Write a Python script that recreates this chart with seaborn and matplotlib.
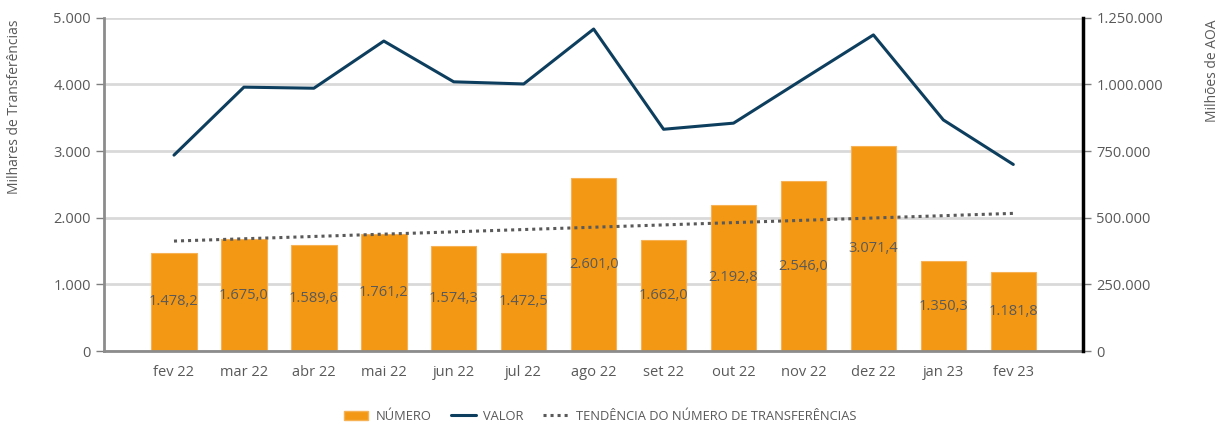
import numpy as np
import pandas as pd
import matplotlib
matplotlib.use("Agg")
import matplotlib.pyplot as plt
from matplotlib.ticker import FuncFormatter, FixedLocator
from matplotlib.lines import Line2D
from matplotlib.patches import Patch
import seaborn as sns

# -------------------------------------------------------- data
MESES = ["fev 22", "mar 22", "abr 22", "mai 22", "jun 22", "jul 22", "ago 22",
         "set 22", "out 22", "nov 22", "dez 22", "jan 23", "fev 23"]
NUMERO = [1478.2, 1675.0, 1589.6, 1761.2, 1574.3, 1472.5, 2601.0,
          1662.0, 2192.8, 2546.0, 3071.4, 1350.3, 1181.8]
VALOR = [735000, 990000, 986000, 1163000, 1010000, 1002000, 1208000,
         832000, 855000, 1021000, 1186000, 867000, 700000]
LEFT_TICKS = [0, 1000, 2000, 3000, 4000, 5000]
RIGHT_TICKS = [0, 250000, 500000, 750000, 1000000, 1250000]

ORANGE = "#F39814"
NAVY = "#0D3E5E"
GREY_TXT = "#595959"
GRID = "#D9D9D9"


def pt(v, dec=0):
    s = f"{v:,.{dec}f}"
    return s.replace(",", "X").replace(".", ",").replace("X", ".")


df = pd.DataFrame({"mes": MESES, "numero": NUMERO, "valor": VALOR})
df["pos"] = np.arange(len(df))

sns.set_style("white")
plt.rcParams["font.family"] = ["Open Sans", "DejaVu Sans"]

fig = plt.figure(figsize=(12.24, 4.25), dpi=100)
ax = fig.add_axes([0.085, 0.174, 0.8, 0.784])

# bars
sns.barplot(data=df, x="mes", y="numero", color=ORANGE, width=0.65,
            saturation=1, edgecolor="#F7B255", linewidth=0.8, ax=ax, zorder=2)
ax.bar_label(ax.containers[0], labels=[pt(v, 1) for v in NUMERO],
             label_type="center", color=GREY_TXT, fontsize=10.5)

# linear trend of the number of transfers
sns.regplot(data=df, x="pos", y="numero", scatter=False, ci=None, ax=ax,
            line_kws=dict(color=GREY_TXT, linestyle=(0, (1, 1.3)), lw=2.2,
                          zorder=3))

ax.set_xlim(-1, 13)
ax.set_ylim(0, 5000)
ax.set_yticks(LEFT_TICKS)
ax.yaxis.set_major_formatter(FuncFormatter(lambda v, p: pt(v)))
ax.set_xticks(range(len(MESES)))
ax.set_xticklabels(MESES)
ax.xaxis.set_minor_locator(FixedLocator([-1, 13]))
ax.set_xlabel("")
ax.set_ylabel("Milhares de Transferências", color=GREY_TXT, fontsize=10,
              loc="top")
ax.yaxis.set_label_coords(-0.0838, 0.994)
ax.yaxis.grid(True, color=GRID, lw=2, zorder=0)
ax.set_axisbelow(True)
ax.tick_params(axis="both", colors="#7f7f7f", labelcolor=GREY_TXT,
               labelsize=10.5, length=6, width=1)
ax.tick_params(axis="x", which="minor", colors="#7f7f7f", length=6, width=1)
ax.tick_params(axis="x", pad=4)
for side in ["top", "right"]:
    ax.spines[side].set_visible(False)
for side in ["left", "bottom"]:
    ax.spines[side].set_color("#8c8c8c")
    ax.spines[side].set_linewidth(2)

# secondary axis: value
ax2 = ax.twinx()
sns.lineplot(data=df, x="pos", y="valor", color=NAVY, lw=2.2, sort=False,
             ax=ax2)
ax2.set_ylim(0, 1250000)
ax2.set_yticks(RIGHT_TICKS)
ax2.yaxis.set_major_formatter(FuncFormatter(lambda v, p: pt(v)))
ax2.set_xlim(-1, 13)
ax2.set_xlabel("")
ax2.set_ylabel("Milhões de AOA", color=GREY_TXT, fontsize=10, loc="top")
ax2.yaxis.set_label_coords(1.1246, 0.994)
ax2.tick_params(axis="y", colors="#7f7f7f", labelcolor=GREY_TXT,
                labelsize=10.5, length=6, width=1)
for side in ["top", "left", "bottom"]:
    ax2.spines[side].set_visible(False)
ax2.spines["right"].set_color("black")
ax2.spines["right"].set_linewidth(2.5)

# legend
handles = [
    Patch(facecolor=ORANGE, edgecolor="#F7B255"),
    Line2D([], [], color=NAVY, lw=2.2),
    Line2D([], [], color=GREY_TXT, lw=2.2, linestyle=(0, (1, 1.3))),
]
labels = ["NÚMERO", "VALOR", "TENDÊNCIA DO NÚMERO DE TRANSFERÊNCIAS"]
fig.legend(handles, labels, loc="center", bbox_to_anchor=(0.49, 0.021),
           ncol=3, frameon=False, fontsize=9.3, labelcolor=GREY_TXT,
           handlelength=1.9, columnspacing=1.5, handletextpad=0.6)

fig.savefig("out.png", dpi=100)
plt.close(fig)
